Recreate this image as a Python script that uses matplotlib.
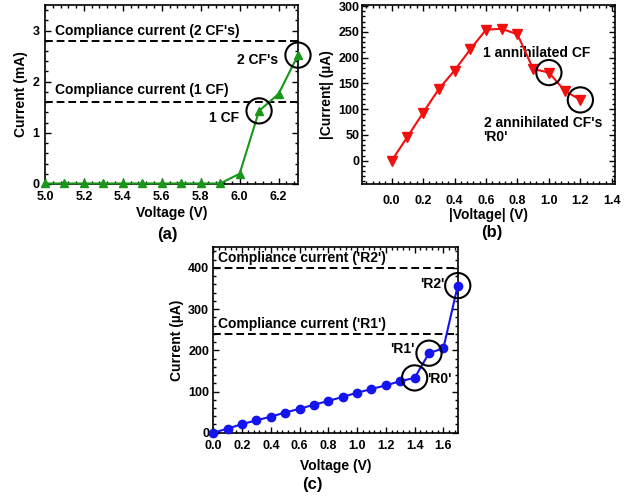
import matplotlib
matplotlib.use("Agg")
import matplotlib.pyplot as plt
from matplotlib.ticker import MultipleLocator, FormatStrFormatter

plt.rcParams['font.family'] = ['Liberation Sans', 'DejaVu Sans']
plt.rcParams['font.weight'] = 'bold'
plt.rcParams['axes.labelweight'] = 'bold'

# Panel (a)
va = [5.0, 5.1, 5.2, 5.3, 5.4, 5.5, 5.6, 5.7, 5.8, 5.9, 6.0, 6.1, 6.2, 6.3]
ia = [0.01, 0.01, 0.01, 0.01, 0.01, 0.01, 0.01, 0.01, 0.01, 0.01, 0.2, 1.43, 1.76, 2.52]
comp_a = [1.6, 2.8]
comp_a_labels = ["Compliance current (1 CF)", "Compliance current (2 CF's)"]

# Panel (b)
vb = [0.0, 0.1, 0.2, 0.3, 0.4, 0.5, 0.6, 0.7, 0.8, 0.9, 1.0, 1.1, 1.2]
ib = [0, 46, 93, 139, 175, 216, 254, 256, 245, 178, 171, 136, 118]

# Panel (c)
vc = [0.0, 0.1, 0.2, 0.3, 0.4, 0.5, 0.6, 0.7, 0.8, 0.9, 1.0, 1.1, 1.2, 1.3, 1.4, 1.5, 1.6, 1.7]
ic = [0, 10, 21, 30, 39, 49, 58, 68, 77, 87, 97, 106, 115, 125, 133, 193, 205, 357]
comp_c = [240, 400]
comp_c_labels = ["Compliance current ('R1')", "Compliance current ('R2')"]

fig = plt.figure(figsize=(6.34, 5.0), dpi=100)
fig.patch.set_facecolor('white')

def style(ax, xpad, ypad):
    for s in ax.spines.values():
        s.set_linewidth(1.2)
    ax.tick_params(which='both', direction='in', top=True, right=True, labelsize=9, width=1)
    ax.tick_params(which='major', length=4)
    ax.tick_params(which='minor', length=2)
    ax.tick_params(axis='x', pad=xpad)
    ax.tick_params(axis='y', pad=ypad)
    for t in ax.get_xticklabels() + ax.get_yticklabels():
        t.set_fontweight('bold')

TS = 10
circ = dict(s=330, facecolors='none', edgecolors='black', linewidths=1.5, zorder=5)

# ---- (a)
axa = fig.add_axes([0.071, 0.632, 0.399, 0.358])
axa.plot(va, ia, color='#1a961a', marker='^', markersize=6, linewidth=1.5, clip_on=False, zorder=4)
for c in comp_a:
    axa.axhline(c, color='black', linestyle='--', linewidth=1.4, dashes=(4, 2))
axa.set_xlim(5.0, 6.3)
axa.set_ylim(0, 3.5)
axa.xaxis.set_major_locator(MultipleLocator(0.2))
axa.xaxis.set_minor_locator(MultipleLocator(0.04))
axa.yaxis.set_major_locator(MultipleLocator(1))
axa.yaxis.set_minor_locator(MultipleLocator(0.2))
axa.xaxis.set_major_formatter(FormatStrFormatter('%.1f'))
axa.set_xlabel('Voltage (V)', fontsize=10, labelpad=2)
axa.set_ylabel('Current (mA)', fontsize=10, labelpad=3)
axa.text(5.05, 3.0, comp_a_labels[1], fontsize=TS, fontweight='bold', va='center')
axa.text(5.05, 1.84, comp_a_labels[0], fontsize=TS, fontweight='bold', va='center')
axa.scatter([va[-1]], [ia[-1]], **circ, clip_on=False)
axa.scatter([va[11]], [ia[11]], **circ, clip_on=False)
axa.text(6.2, 2.43, "2 CF's", fontsize=TS, fontweight='bold', va='center', ha='right')
axa.text(6.0, 1.29, "1 CF", fontsize=TS, fontweight='bold', va='center', ha='right')
style(axa, 5, 4)
fig.text(167/634, 1 - 234/500, '(a)', fontsize=12, fontweight='bold', ha='center', va='center')

# ---- (b)
axb = fig.add_axes([0.5705, 0.632, 0.3995, 0.358])
axb.plot(vb, ib, color='#f01010', marker='v', markersize=6.5, linewidth=1.5, zorder=4)
axb.set_xlim(-0.19, 1.42)
axb.set_ylim(-45, 302)
axb.xaxis.set_major_locator(MultipleLocator(0.2))
axb.xaxis.set_minor_locator(MultipleLocator(0.04))
axb.yaxis.set_major_locator(MultipleLocator(50))
axb.yaxis.set_minor_locator(MultipleLocator(10))
axb.xaxis.set_major_formatter(FormatStrFormatter('%.1f'))
axb.set_xlabel('|Voltage| (V)', fontsize=10, labelpad=1)
axb.set_ylabel('|Current| (\u00b5A)', fontsize=10, labelpad=3)
axb.scatter([vb[10]], [ib[10]], **circ, clip_on=False)
axb.scatter([vb[12]], [ib[12]], **circ, clip_on=False)
axb.text(0.58, 209, '1 annihilated CF', fontsize=TS, fontweight='bold', va='center')
axb.text(0.585, 74, "2 annihilated CF's", fontsize=TS, fontweight='bold', va='center')
axb.text(0.585, 47, "'R0'", fontsize=TS, fontweight='bold', va='center')
style(axb, 8, 1.5)
fig.text(492/634, 1 - 233/500, '(b)', fontsize=12, fontweight='bold', ha='center', va='center')

# ---- (c)
axc = fig.add_axes([0.3365, 0.1346, 0.3855, 0.3708])
axc.plot(vc, ic, color='#1414ee', marker='o', markersize=6, linewidth=1.5, clip_on=False, zorder=4)
for c in comp_c:
    axc.axhline(c, color='black', linestyle='--', linewidth=1.4, dashes=(4, 2))
axc.set_xlim(0, 1.7)
axc.set_ylim(0, 450)
axc.xaxis.set_major_locator(MultipleLocator(0.2))
axc.xaxis.set_minor_locator(MultipleLocator(0.04))
axc.yaxis.set_major_locator(MultipleLocator(100))
axc.yaxis.set_minor_locator(MultipleLocator(20))
axc.xaxis.set_major_formatter(FormatStrFormatter('%.1f'))
axc.set_xlabel('Voltage (V)', fontsize=10, labelpad=5)
axc.set_ylabel('Current (\u00b5A)', fontsize=10, labelpad=3)
axc.text(0.03, 423, comp_c_labels[1], fontsize=TS, fontweight='bold', va='center')
axc.text(0.03, 265, comp_c_labels[0], fontsize=TS, fontweight='bold', va='center')
axc.scatter([vc[17]], [ic[17]], **circ, clip_on=False)
axc.scatter([vc[15]], [ic[15]], **circ, clip_on=False)
axc.scatter([vc[14]], [ic[14]], **circ, clip_on=False)
axc.text(1.61, 361, "'R2'", fontsize=TS, fontweight='bold', va='center', ha='right')
axc.text(1.40, 202, "'R1'", fontsize=TS, fontweight='bold', va='center', ha='right')
axc.text(1.485, 131, "'R0'", fontsize=TS, fontweight='bold', va='center', ha='left')
style(axc, 5, 3)
fig.text(312/634, 1 - 485/500, '(c)', fontsize=12, fontweight='bold', ha='center', va='center')

fig.savefig('out.png', dpi=100, facecolor='white')
